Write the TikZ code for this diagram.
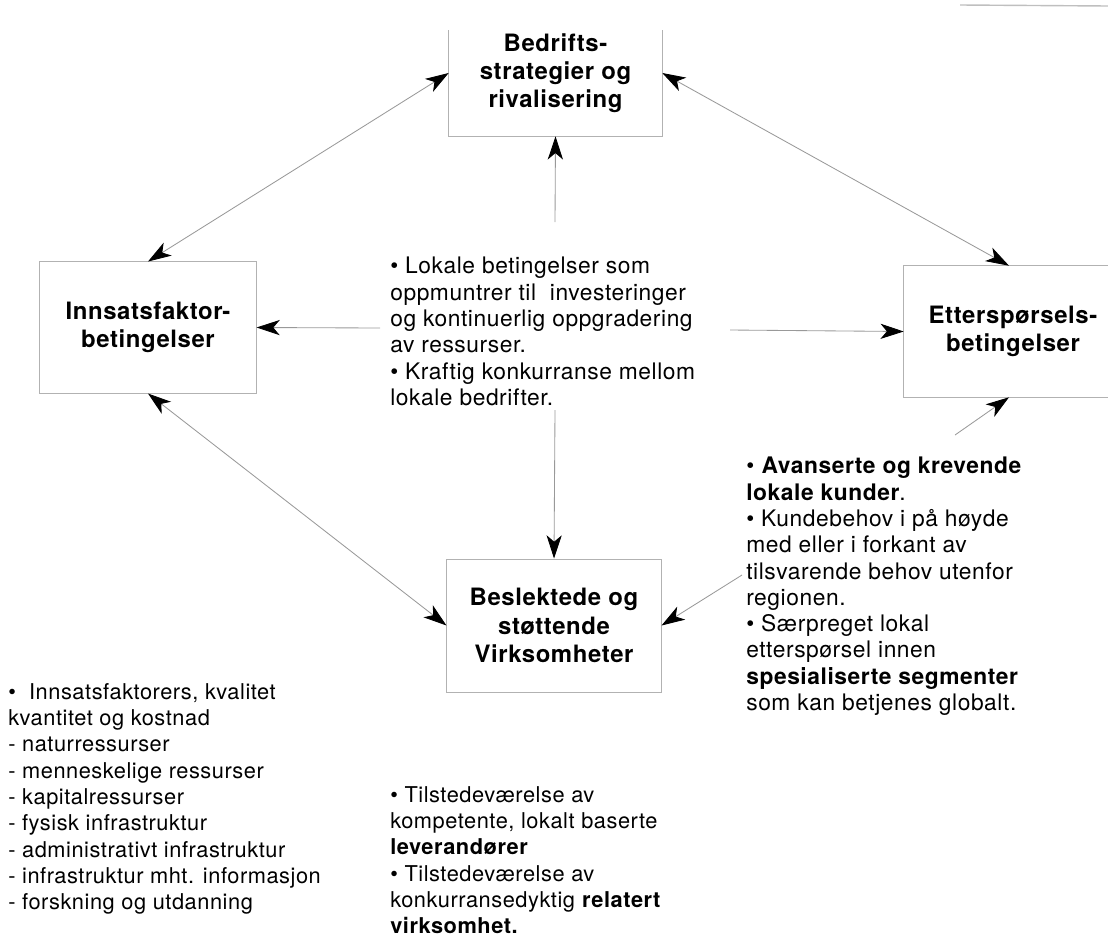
\documentclass[tikz,border=0pt]{standalone}
\usepackage{fontspec}
\setmainfont{TeX Gyre Heros}[LetterSpace=2.5]
\usetikzlibrary{arrows.meta,positioning}

\begin{document}
\begin{tikzpicture}[x=0.025cm, y=-0.025cm,
  font=\fontsize{15.5}{18.7}\selectfont,
  link/.style={draw=black!40, line width=0.6pt},
  arr/.style={link, -{Stealth[length=0.58cm, width=0.38cm, inset=0.16cm, black]}},
  biarr/.style={link, {Stealth[length=0.58cm, width=0.38cm, inset=0.16cm, black]}-{Stealth[length=0.58cm, width=0.38cm, inset=0.16cm, black]}},
  frame/.style={draw=black!30, line width=0.7pt},
  box/.style={align=center, inner sep=0pt, font=\fontsize{17}{20}\selectfont\bfseries},
  txt/.style={align=left, anchor=north west, inner sep=0pt},
  bigtxt/.style={txt, font=\fontsize{16.2}{18.7}\selectfont}]
  \useasboundingbox (0,0) rectangle (1108,948);

  % scan line at the top
  \draw[black!25, line width=1pt] (960,5) -- (1108,6);

  % the four corners
  \node[box, minimum width=5.325cm, minimum height=3.15cm] (strat) at (555.5,73) {Bedrifts-\\strategier og\\rivalisering};
  \node[box, frame, minimum width=5.4cm, minimum height=3.275cm] (innsats) at (148,327.5) {Innsatsfaktor-\\betingelser};
  \node[box, minimum width=5.45cm, minimum height=3.275cm] (etter) at (1013,331.5) {Etterspørsels-\\betingelser};
  \node[box, frame, minimum width=5.35cm, minimum height=3.325cm] (besl) at (554,625.5) {Beslektede og\\støttende\\Virksomheter};

  \draw[frame] (strat.south west) ++(0,-106) -- (strat.south west) -- (strat.south east) -- ++(0,-106);
  \draw[frame] (etter.north west) ++(204,0) -- (etter.north west) -- (etter.south west) -- ++(204,0);

  % texts
  \node[bigtxt] (lokal) at (390,257) {\textbullet{} Lokale betingelser som\\
    oppmuntrer til\ \ investeringer\\
    og kontinuerlig oppgradering\\
    av ressurser.\\
    \textbullet{} Kraftig konkurranse mellom\\
    lokale bedrifter.};
  \node[bigtxt] (kunde) at (746,457) {\textbullet{} \textbf{Avanserte og krevende}\\
    \textbf{lokale kunder}.\\
    \textbullet{} Kundebehov i på høyde\\
    med eller i forkant av\\
    tilsvarende behov utenfor\\
    regionen.\\
    \textbullet{} Særpreget lokal\\
    etterspørsel innen\\
    \textbf{spesialiserte segmenter}\\
    som kan betjenes globalt.};
  \node[txt] (faktor) at (8,683) {\textbullet{}\ \ Innsatsfaktorers, kvalitet\\
    kvantitet og kostnad\\
    - naturressurser\\
    - menneskelige ressurser\\
    - kapitalressurser\\
    - fysisk infrastruktur\\
    - administrativt infrastruktur\\
    - infrastruktur mht. informasjon\\
    - forskning og utdanning};
  \node[txt] (lever) at (390,786) {\textbullet{} Tilstedeværelse av\\
    kompetente, lokalt baserte\\
    \textbf{leverandører}\\
    \textbullet{} Tilstedeværelse av\\
    konkurransedyktig \textbf{relatert}\\
    \textbf{virksomhet.}};

  % free ends
  \coordinate (upend) at (555,222);
  \coordinate (downend) at (555,410);
  \coordinate (leftend) at (380,328);
  \coordinate (rightend) at (730,330);
  \coordinate (kundeend) at (955,435);
  \coordinate (besleend) at (742,575);

  % connectors
  \draw[biarr] (strat.west) -- (innsats.north);
  \draw[biarr] (strat.east) -- ([xshift=-0.1cm]etter.north);
  \draw[biarr] (innsats.south) -- (besl.west);
  \draw[arr] (upend) -- (strat.south);
  \draw[arr] (downend) -- (besl.north);
  \draw[arr] (leftend) -- (innsats.east);
  \draw[arr] (rightend) -- (etter.west);
  \draw[arr] (kundeend) -- ([xshift=-0.1cm]etter.south);
  \draw[arr] (besleend) -- (besl.east);

\end{tikzpicture}
\end{document}
